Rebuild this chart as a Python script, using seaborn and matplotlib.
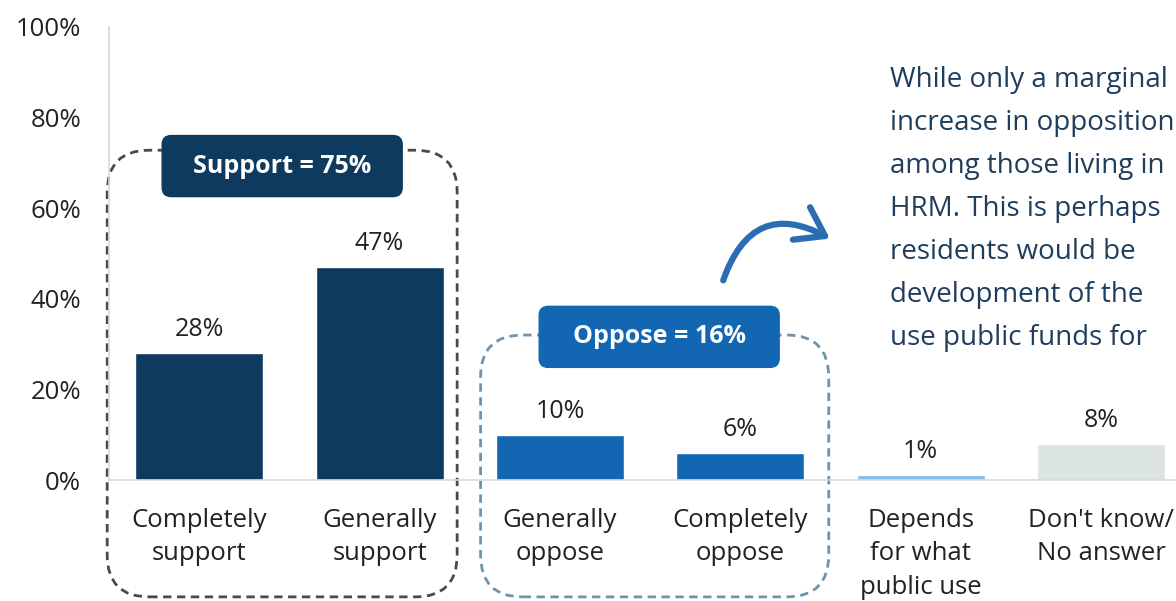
import matplotlib
matplotlib.use("Agg")
import matplotlib.pyplot as plt
from matplotlib.patches import FancyBboxPatch
from matplotlib.transforms import IdentityTransform
import seaborn as sns
import pandas as pd

# Data
categories = ["Completely\nsupport", "Generally\nsupport", "Generally\noppose",
              "Completely\noppose", "Depends\nfor what\npublic use", "Don't know/\nNo answer"]
values = [28, 47, 10, 6, 1, 8]
bar_colors = ["#0f3a5f", "#0f3a5f", "#1367b2", "#1367b2", "#7cc0ea", "#dce5e0"]
y_ticks = [0, 20, 40, 60, 80, 100]
support_label = "Support = 75%"
oppose_label = "Oppose = 16%"
note_lines = ["While only a marginal", "increase in opposition", "among those living in",
              "HRM. This is perhaps", "residents would be", "development of the",
              "use public funds for"]

df = pd.DataFrame({"category": categories, "value": values})

sns.set_theme(style="white")
plt.rcParams["font.family"] = ["Open Sans", "DejaVu Sans"]

fig = plt.figure(figsize=(11.76, 6.01), dpi=100)
ax = fig.add_axes([109 / 1176, 1 - 480 / 601, 1 - 109 / 1176, (480 - 27) / 601])

sns.barplot(data=df, x="category", y="value", hue="category", palette=bar_colors,
            legend=False, width=0.71, saturation=1, ax=ax)

ax.set_xlim(-0.5, 5.415)
ax.set_ylim(0, 100)
ax.set_yticks(y_ticks)
ax.set_yticklabels([f"{t}%" for t in y_ticks], fontsize=18.5, color="#222222")
ax.tick_params(axis="y", length=8, color="#d9d9d9", pad=12)
ax.tick_params(axis="x", length=0, pad=20, labelsize=18.5, labelcolor="#222222")
for lab in ax.get_xticklabels():
    lab.set_linespacing(1.45)
ax.set_xlabel("")
ax.set_ylabel("")
for s in ["top", "right"]:
    ax.spines[s].set_visible(False)
for s in ["left", "bottom"]:
    ax.spines[s].set_color("#d9d9d9")
    ax.spines[s].set_linewidth(1.2)

# value labels
for i, v in enumerate(values):
    ax.annotate(f"{v}%", (i, v), xytext=(0, 8), textcoords="offset points",
                ha="center", va="bottom", fontsize=18, color="#222222")


def px(x, y):
    return ax.transData.transform((x, y))


def group_box(x0, x1, y_top, y_bot, color):
    p0 = px(x0, y_top)
    p1 = px(x1, y_bot)
    box = FancyBboxPatch((p0[0], p1[1]), p1[0] - p0[0], p0[1] - p1[1],
                         boxstyle="round,pad=0,rounding_size=42", transform=IdentityTransform(),
                         fill=False, edgecolor=color, linewidth=2, linestyle=(0, (3, 2)),
                         clip_on=False, zorder=1)
    ax.add_patch(box)


def label_box(xc, yc, text, color, w=240, h=61):
    c = px(xc, yc)
    box = FancyBboxPatch((c[0] - w / 2, c[1] - h / 2), w, h,
                         boxstyle="round,pad=0,rounding_size=9", transform=IdentityTransform(),
                         facecolor=color, edgecolor=color, clip_on=False, zorder=4)
    ax.add_patch(box)
    ax.text(xc, yc, text, ha="center", va="center", fontsize=18, fontweight="bold",
            color="white", zorder=5)


group_box(-0.51, 1.43, 72.8, -25.8, "#4a4a4a")
group_box(1.56, 3.49, 32.0, -25.8, "#6f93aa")
label_box(0.46, 69.3, support_label, "#0f3a5f")
label_box(2.55, 31.6, oppose_label, "#1367b2")

# curved arrow
ax.annotate("", xy=(3.51, 53), xytext=(2.9, 43.5),
            arrowprops=dict(arrowstyle="->,head_length=1.6,head_width=1.1", color="#2b6db3",
                            lw=4.5, connectionstyle="arc3,rad=-0.6"),
            annotation_clip=False)

# note text
for k, line in enumerate(note_lines):
    fig.text(890 / 1176, 1 - (80 + 43 * k) / 601, line, ha="left", va="center",
             fontsize=20, color="#1f3d5c")

fig.savefig("out.png", dpi=100)
